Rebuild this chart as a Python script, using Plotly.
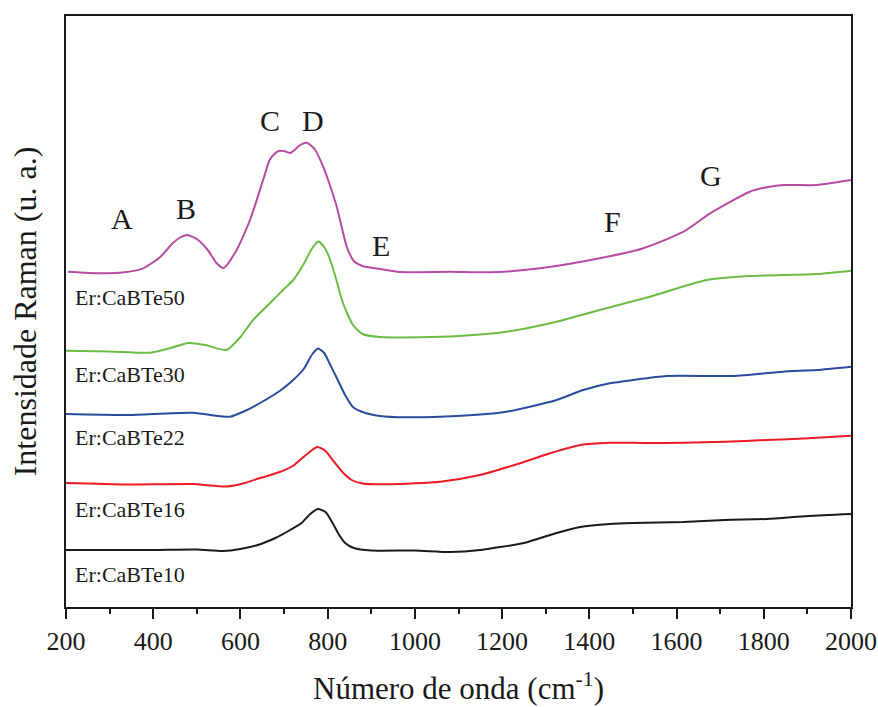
import plotly.graph_objects as go

# ---- data (wavenumber in cm^-1, intensity in arbitrary units, offset stacked) ----
w_10 = [200, 300, 400, 500, 560, 600, 640, 680, 710, 740, 760, 778, 795, 810, 825, 840, 860, 900, 1000, 1080, 1150, 1250, 1325, 1379, 1447, 1500, 1615, 1711, 1807, 1902, 2000]
i_10 = [57, 57, 57, 57.5, 56, 58, 62, 69, 76, 84, 93, 98, 95, 85, 73, 64, 59, 56.5, 56.5, 55, 57, 64, 74, 80, 83, 84, 85, 87, 88, 91, 93]

w_16 = [200, 340, 490, 568, 610, 645, 690, 720, 750, 776, 795, 815, 836, 855, 880, 943, 1058, 1149, 1241, 1310, 1379, 1447, 1530, 1615, 1711, 1807, 1902, 2000]
i_16 = [124, 122.5, 123, 120.5, 124, 129, 135, 141, 152, 160, 156, 145, 134, 127, 123.5, 122.7, 125.3, 132, 143.7, 153.7, 162, 164.3, 164, 164.3, 165.3, 167, 168.7, 171.3]

w_22 = [200, 340, 490, 550, 576, 610, 645, 690, 721, 745, 765, 778, 792, 805, 821, 840, 858, 880, 920, 981, 1096, 1210, 1325, 1386, 1447, 1500, 1577, 1729, 1844, 1921, 2000]
i_22 = [193, 192, 194.3, 191, 190.3, 196, 204, 216, 227, 238, 253, 258.5, 254, 243, 229, 212, 200, 195, 191, 189.7, 191, 195.3, 207, 217, 223.7, 227, 231, 231, 235.3, 237, 240.3]

w_30 = [200, 300, 393, 440, 480, 520, 568, 600, 629, 668, 700, 721, 745, 762, 778, 792, 805, 818, 835, 858, 880, 920, 1012, 1100, 1210, 1325, 1424, 1539, 1669, 1768, 1921, 2000]
i_30 = [256.3, 255.5, 254.3, 259, 264, 262, 257, 270, 287, 304, 318, 327, 343, 357, 365.5, 360, 348, 330, 304, 282, 273, 270, 269.7, 271, 275.3, 285.3, 297, 310.3, 327, 331, 333, 336.3]

w_50 = [205, 278, 330, 377, 416, 445, 460, 478, 500, 525, 545, 561, 590, 622, 652, 668, 685, 700, 715, 737, 752, 770, 790, 805, 821, 844, 860, 880, 920, 966, 1081, 1172, 1287, 1424, 1524, 1616, 1677, 1768, 1810, 1845, 1921, 2000]
i_50 = [335.3, 333.7, 334.5, 338.7, 350, 364, 369, 372, 368, 357, 344, 339, 356, 387, 427, 448, 455.5, 456, 454, 462, 464.3, 458, 440, 422, 400, 360, 346, 341, 338, 335, 335.3, 334.7, 338.7, 348.7, 358.7, 375.3, 393.7, 415.3, 420, 422, 422, 427]

series_names = ["Er:CaBTe10", "Er:CaBTe16", "Er:CaBTe22", "Er:CaBTe30", "Er:CaBTe50"]
series_colors = ["#1a1a1a", "#ec1c24", "#2a4c9e", "#6cbd45", "#b84ba3"]
series_w = [w_10, w_16, w_22, w_30, w_50]
series_i = [i_10, i_16, i_22, i_30, i_50]

# label positions (data coords)
label_x = [216, 216, 216, 216, 216]
label_y = [33, 98, 170, 233, 310]

peak_letters = ["A", "B", "C", "D", "E", "F", "G"]
peak_x = [328, 475, 668, 766, 922, 1452, 1679]
peak_y = [389, 399, 487, 487, 362, 386, 432]

FONT = "Liberation Serif, Times New Roman, serif"
INK = "#1a1a1a"

fig = go.Figure()
for name, col, xs, ys in zip(series_names, series_colors, series_w, series_i):
    fig.add_trace(go.Scatter(x=xs, y=ys, mode="lines", name=name,
                             line=dict(color=col, width=2, shape="spline", smoothing=0.6),
                             showlegend=False))

annotations = []
for name, lx, ly in zip(series_names, label_x, label_y):
    annotations.append(dict(x=lx, y=ly, xref="x", yref="y", text=name, showarrow=False,
                            xanchor="left", yanchor="middle",
                            font=dict(family=FONT, size=22, color=INK)))
for t, px, py in zip(peak_letters, peak_x, peak_y):
    annotations.append(dict(x=px, y=py, xref="x", yref="y", text=t, showarrow=False,
                            xanchor="center", yanchor="middle",
                            font=dict(family=FONT, size=30, color=INK)))

fig.update_layout(
    width=878, height=707,
    margin=dict(l=66, r=27, t=16, b=100, autoexpand=False),
    paper_bgcolor="white", plot_bgcolor="white",
    font=dict(family=FONT, color=INK),
    annotations=annotations,
    xaxis=dict(range=[200, 2000], showgrid=False, zeroline=False,
               showline=True, mirror=True, linecolor=INK, linewidth=2,
               ticks="outside", ticklen=10, tickwidth=2, tickcolor=INK,
               tick0=200, dtick=200,
               minor=dict(dtick=100, ticks="outside", ticklen=5, tickwidth=2, tickcolor=INK, showgrid=False),
               tickfont=dict(family=FONT, size=26, color=INK),
               title=dict(text="Número de onda (cm<sup>-1</sup>)", standoff=22,
                          font=dict(family=FONT, size=31, color=INK))),
    yaxis=dict(range=[0, 591], showgrid=False, zeroline=False,
               showline=True, mirror=True, linecolor=INK, linewidth=2,
               ticks="", showticklabels=False,
               title=dict(text="Intensidade Raman (u. a.)", standoff=18,
                          font=dict(family=FONT, size=32, color=INK))),
)

fig.write_html("out.html")
